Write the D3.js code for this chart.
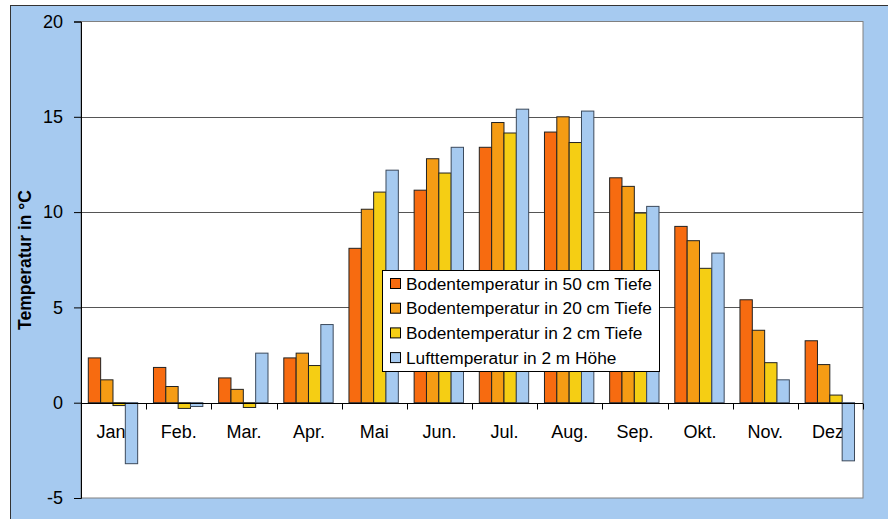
<!DOCTYPE html>
<html>
<head>
<meta charset="utf-8">
<script src="https://cdn.jsdelivr.net/npm/d3@7"></script>
<style>
  body { margin: 0; background: #ffffff; }
  text { font-family: "Liberation Sans", Arial, sans-serif; fill: #000; }
</style>
</head>
<body>
<svg id="canvas"></svg>
<script>
// Chart data.
var months = ['Jan.', 'Feb.', 'Mar.', 'Apr.', 'Mai', 'Jun.', 'Jul.', 'Aug.', 'Sep.', 'Okt.', 'Nov.', 'Dez.'];
var boden50 = [2.35, 1.85, 1.3, 2.35, 8.1, 11.15, 13.4, 14.2, 11.8, 9.25, 5.4, 3.25];
var boden20 = [1.2, 0.85, 0.7, 2.6, 10.15, 12.8, 14.7, 15.0, 11.35, 8.5, 3.8, 2.0];
var boden2 = [-0.15, -0.3, -0.25, 1.95, 11.05, 12.05, 14.15, 13.65, 9.95, 7.05, 2.1, 0.4];
var luft2m = [-3.2, -0.2, 2.6, 4.1, 12.2, 13.4, 15.4, 15.3, 10.3, 7.85, 1.2, -3.05];
var seriesNames = [
  'Bodentemperatur in 50 cm Tiefe',
  'Bodentemperatur in 20 cm Tiefe',
  'Bodentemperatur in 2 cm Tiefe',
  'Lufttemperatur in 2 m Höhe'
];
var yTicks = [-5, 0, 5, 10, 15, 20];

// Layout and colours.
var canvas = { width: 888, height: 519 };
var plot = { left: 81, right: 863, top: 21.5, bottom: 498 };
var colours = ['#F76B10', '#F59C14', '#F5CE14', '#A6CAF0'];
var strokes = ['#222', '#222', '#222', '#3c4a5c'];

var series = seriesNames.map(function(name, i) {
  return { name: name, values: [boden50, boden20, boden2, luft2m][i], colour: colours[i], stroke: strokes[i] };
});

var svg = d3.select('#canvas')
  .attr('width', canvas.width)
  .attr('height', canvas.height);

// Outer chart area.
svg.append('rect')
  .attr('x', 10.5).attr('y', 5.5)
  .attr('width', canvas.width + 10).attr('height', canvas.height + 10)
  .attr('fill', '#A6CAF0').attr('stroke', '#333');

// Plot area.
svg.append('rect')
  .attr('x', plot.left).attr('y', plot.top)
  .attr('width', plot.right - plot.left).attr('height', plot.bottom - plot.top)
  .attr('fill', '#ffffff').attr('stroke', '#808080');

// Scales.
var x0 = d3.scaleBand().domain(months).range([plot.left, plot.right]);
var x1 = d3.scaleBand().domain(seriesNames).range([7.3, x0.bandwidth() - 8.5]);
var y = d3.scaleLinear().domain([-5, 20]).range([plot.bottom, plot.top]);

// Gridlines.
svg.append('g')
  .selectAll('line')
  .data([5, 10, 15])
  .enter()
  .append('line')
  .attr('x1', plot.left).attr('x2', plot.right)
  .attr('y1', function(d) { return Math.round(y(d)) + 0.5; })
  .attr('y2', function(d) { return Math.round(y(d)) + 0.5; })
  .attr('stroke', '#555');

// Vertical axis.
var yAxis = svg.append('g')
  .attr('transform', 'translate(' + plot.left + ',0)')
  .call(d3.axisLeft(y).tickValues(yTicks).tickSize(7).tickPadding(11)
    .tickFormat(function(d) { return String(d); }));
yAxis.select('.domain').attr('stroke', '#000');
yAxis.selectAll('text').attr('font-size', 18).attr('font-family', '"Liberation Sans", Arial, sans-serif');

// Month labels (drawn under the bars).
svg.append('g')
  .selectAll('text')
  .data(months)
  .enter()
  .append('text')
  .attr('x', function(d) { return x0(d) + x0.bandwidth() / 2; })
  .attr('y', 438)
  .attr('text-anchor', 'middle')
  .attr('font-size', 18)
  .text(function(d) { return d; });

// Bars.
var groups = svg.append('g')
  .selectAll('g')
  .data(series)
  .enter()
  .append('g');

groups.selectAll('rect')
  .data(function(s) { return s.values.map(function(v, i) { return { s: s, m: months[i], v: v }; }); })
  .enter()
  .append('rect')
  .attr('x', function(d) { return x0(d.m) + x1(d.s.name); })
  .attr('y', function(d) { return y(Math.max(0, d.v)); })
  .attr('width', x1.bandwidth())
  .attr('height', function(d) { return Math.abs(y(d.v) - y(0)); })
  .attr('fill', function(d) { return d.s.colour; })
  .attr('stroke', function(d) { return d.s.stroke; })
  .attr('stroke-width', 1);

// Zero line with month tick marks.
var zeroY = Math.round(y(0)) + 0.5;
svg.append('line')
  .attr('x1', plot.left).attr('x2', plot.right)
  .attr('y1', zeroY).attr('y2', zeroY)
  .attr('stroke', '#000');
svg.append('g')
  .selectAll('line')
  .data(months.concat(['end']))
  .enter()
  .append('line')
  .attr('x1', function(d, i) { return Math.round(plot.left + i * x0.bandwidth()) + 0.5; })
  .attr('x2', function(d, i) { return Math.round(plot.left + i * x0.bandwidth()) + 0.5; })
  .attr('y1', zeroY).attr('y2', zeroY + 6)
  .attr('stroke', '#000');

// Vertical axis title.
svg.append('text')
  .attr('transform', 'translate(31,260) rotate(-90)')
  .attr('text-anchor', 'middle')
  .attr('font-size', 17.5)
  .attr('font-weight', 'bold')
  .text('Temperatur in °C');

// Legend.
var legend = svg.append('g').attr('transform', 'translate(382.5,270.5)');
legend.append('rect')
  .attr('width', 277).attr('height', 101)
  .attr('fill', '#fff').attr('stroke', '#000');
var items = legend.selectAll('.item')
  .data(series)
  .enter()
  .append('g')
  .attr('class', 'item')
  .attr('transform', function(d, i) { return 'translate(0,' + (13 + i * 24.7) + ')'; });
items.append('rect')
  .attr('x', 8).attr('y', -5)
  .attr('width', 10).attr('height', 10)
  .attr('fill', function(d) { return d.colour; })
  .attr('stroke', '#000');
items.append('text')
  .attr('x', 23.5).attr('y', 6)
  .attr('font-size', 17.3)
  .text(function(d) { return d.name; });
</script>
</body>
</html>
